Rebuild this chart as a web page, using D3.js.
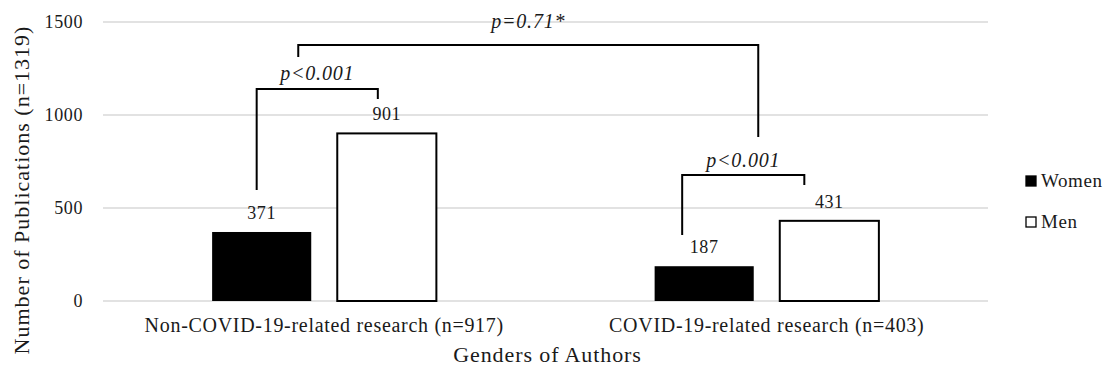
<!DOCTYPE html>
<html><head><meta charset="utf-8">
<script src="https://cdn.jsdelivr.net/npm/d3@7"></script>
<style>body{margin:0;background:#fff;} svg{display:block;}</style>
</head><body>
<svg id="c" width="1110" height="370"></svg>
<script>
const categories = ["Non-COVID-19-related research (n=917)", "COVID-19-related research (n=403)"];
const genders = ["Women", "Men"];
const women = [371, 187];
const men = [901, 431];
const yTicks = [0, 500, 1000, 1500];
const pLabels = ["p<0.001", "p<0.001", "p=0.71*"];
const yTitle = "Number of Publications (n=1319)";
const xTitle = "Genders of Authors";

const FONT = "Liberation Serif";
const TXT = "#1a1a1a";
const svg = d3.select("#c");
const pLeft = 103, pRight = 988, pTop = 22, pBottom = 301;
const x0 = d3.scaleBand().domain(categories).range([pLeft, pRight]).padding(0);
const x1 = d3.scaleBand().domain(genders).range([0, x0.bandwidth()]).paddingInner(0.208).paddingOuter(0.872);
const y = d3.scaleLinear().domain([0, 1500]).range([pBottom, pTop]);

function tx(sel, size, ls) {
  return sel.style("font-family", FONT).style("font-size", size + "px")
    .style("letter-spacing", (ls || 0) + "px").attr("fill", TXT);
}

// gridlines
svg.append("g").selectAll("line").data(yTicks).join("line")
  .attr("x1", pLeft).attr("x2", pRight)
  .attr("y1", d => y(d)).attr("y2", d => y(d))
  .attr("stroke", "#d9d9d9").attr("stroke-width", 1.5);

// y axis tick labels
const yAxis = d3.axisLeft(y).tickValues(yTicks).tickSize(0).tickPadding(0).tickFormat(d3.format("d"));
const ya = svg.append("g").attr("transform", `translate(83,0)`).call(yAxis);
ya.select(".domain").remove();
ya.attr("font-family", null).attr("font-size", null);
tx(ya.selectAll("text"), 18, 0.6);

// x axis labels
const xAxis = d3.axisBottom(x0).tickSize(0).tickPadding(0);
const xa = svg.append("g").attr("transform", `translate(0,${pBottom + 17})`).call(xAxis);
xa.select(".domain").remove();
xa.attr("font-family", null).attr("font-size", null);
tx(xa.selectAll("text"), 20, 0.7);

// bars
const rows = categories.map((c, i) => ({cat: c, vals: [{g: "Women", v: women[i]}, {g: "Men", v: men[i]}]}));
const groups = svg.append("g").selectAll("g").data(rows).join("g")
  .attr("transform", d => `translate(${x0(d.cat)},0)`);
groups.selectAll("rect").data(d => d.vals).join("rect")
  .attr("x", d => x1(d.g)).attr("width", x1.bandwidth())
  .attr("y", d => y(d.v)).attr("height", d => y(0) - y(d.v))
  .attr("fill", d => d.g === "Women" ? "#000" : "#fff")
  .attr("stroke", "#000").attr("stroke-width", d => d.g === "Women" ? 0 : 2);
tx(groups.selectAll("text.val").data(d => d.vals).join("text").attr("class", "val")
  .attr("x", d => x1(d.g) + x1.bandwidth() / 2).attr("y", d => y(d.v) - 13)
  .attr("text-anchor", "middle"), 18, 0.6)
  .text(d => d.v);

// significance brackets (in data units; x offsets from bar centres)
function bx(ci, g, off) { return x0(categories[ci]) + x1(g) + x1.bandwidth() / 2 + off; }
const br = [
  {x1: bx(0, "Women", -5), x2: bx(0, "Men", -9), yl: 597, yt: 1140, yr: 1086, label: pLabels[0], dy: 9},
  {x1: bx(1, "Women", -22), x2: bx(1, "Men", -25), yl: 355, yt: 677, yr: 624, label: pLabels[1], dy: 8},
];
const topB = {x1: (br[0].x1 + br[0].x2) / 2 - 19, x2: (br[1].x1 + br[1].x2) / 2 + 15, yl: 1312, yt: 1376, yr: 882, label: pLabels[2], dy: 17};
const allB = br.concat([topB]);
const bg = svg.append("g");
allB.forEach(b => {
  bg.append("path")
    .attr("d", `M${b.x1},${y(b.yl)}V${y(b.yt)}H${b.x2}V${y(b.yr)}`)
    .attr("fill", "none").attr("stroke", "#000").attr("stroke-width", 2);
  tx(bg.append("text").attr("x", (b.x1 + b.x2) / 2).attr("y", y(b.yt) - b.dy)
    .attr("text-anchor", "middle"), 20, 0.8).style("font-style", "italic")
    .text(b.label);
});

// titles
tx(svg.append("text").attr("transform", `translate(29,190) rotate(-90)`)
  .attr("text-anchor", "middle"), 22, 1).text(yTitle);
tx(svg.append("text").attr("x", (pLeft + pRight) / 2 + 2).attr("y", 362)
  .attr("text-anchor", "middle"), 22, 0.9).text(xTitle);

// legend
const lg = svg.append("g").attr("transform", "translate(1026,176)");
genders.forEach((g, i) => {
  const gy = i * 41;
  lg.append("rect").attr("x", 0).attr("y", gy).attr("width", 10).attr("height", 10)
    .attr("fill", g === "Women" ? "#000" : "#fff").attr("stroke", "#000").attr("stroke-width", 1.3);
  tx(lg.append("text").attr("x", 15).attr("y", gy + 11), 19, 0.6).text(g);
});
</script>
</body></html>
